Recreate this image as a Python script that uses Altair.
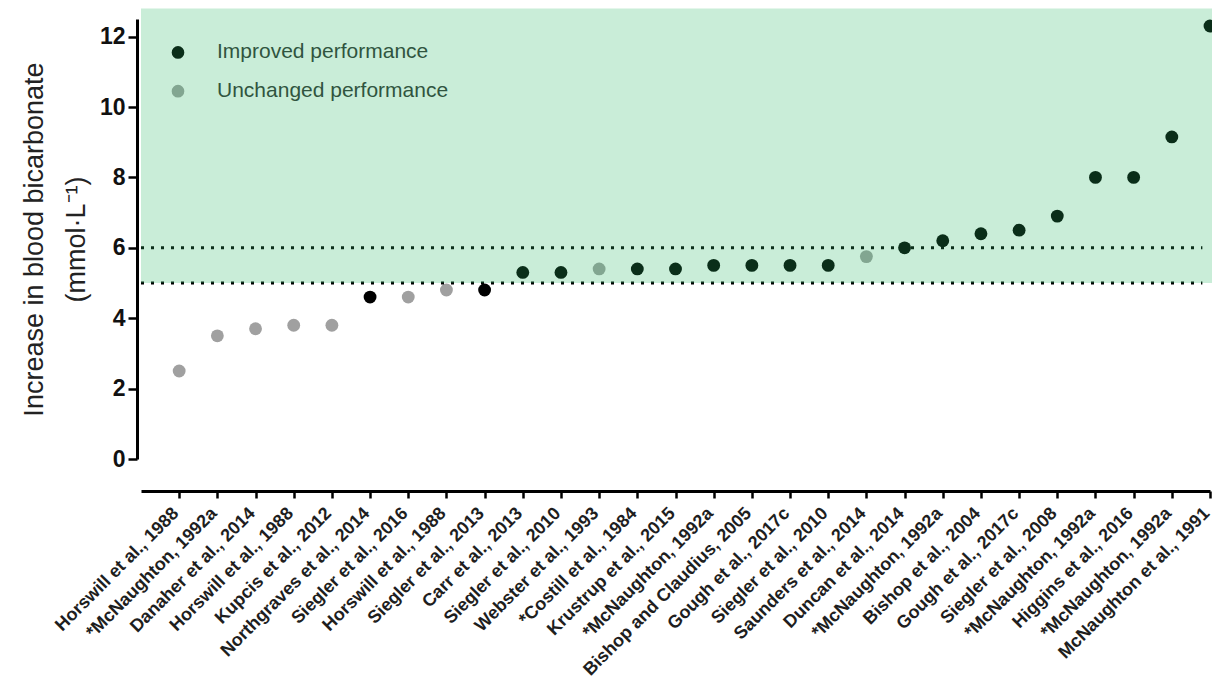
import json
import altair as alt
import pandas as pd

studies = [
    "Horswill et al., 1988", "*McNaughton, 1992a", "Danaher et al., 2014",
    "Horswill et al., 1988", "Kupcis et al., 2012", "Northgraves et al., 2014",
    "Siegler et al., 2016", "Horswill et al., 1988", "Siegler et al., 2013",
    "Carr et al., 2013", "Siegler et al., 2010", "Webster et al., 1993",
    "*Costill et al., 1984", "Krustrup et al., 2015", "*McNaughton, 1992a",
    "Bishop and Claudius, 2005", "Gough et al., 2017c", "Siegler et al., 2010",
    "Saunders et al., 2014", "Duncan et al., 2014", "*McNaughton, 1992a",
    "Bishop et al., 2004", "Gough et al., 2017c", "Siegler et al., 2008",
    "*McNaughton, 1992a", "Higgins et al., 2016", "*McNaughton, 1992a",
    "McNaughton et al., 1991",
]
increase = [2.5, 3.5, 3.7, 3.8, 3.8, 4.6, 4.6, 4.8, 4.8, 5.3, 5.3, 5.4, 5.4, 5.4,
            5.5, 5.5, 5.5, 5.5, 5.75, 6.0, 6.2, 6.4, 6.5, 6.9, 8.0, 8.0, 9.15, 12.3]
I, U = "Improved performance", "Unchanged performance"
outcome = [U, U, U, U, U, I, U, U, I, I, I, U, I, I,
           I, I, I, I, U, I, I, I, I, I, I, I, I, I]
thresholds = [5, 6]
legend_labels = [I, U]

FONT = "Liberation Sans, Arial, Helvetica, sans-serif"
YTITLE = ["Increase in blood bicarbonate", "(mmol·L⁻¹)"]

df = pd.DataFrame({"idx": list(range(len(studies))), "study": studies,
                   "value": increase, "outcome": outcome})

xscale = alt.Scale(domain=[-1, 27], nice=False, zero=False)
yscale = alt.Scale(domain=[0, 12.5], nice=False, zero=True)
cscale = alt.Scale(domain=[I, U], range=["#000000", "#a0a0a0"])

label_expr = json.dumps(studies) + "[datum.value]"

XAX = alt.Axis(values=list(range(len(studies))), labelExpr=label_expr,
               labelAngle=-45, labelAlign="right", labelBaseline="alphabetic",
               labelFontSize=18, labelFontWeight="bold", labelFont=FONT,
               labelColor="#1e1e1e", labelLimit=400,
               labelPadding=16, tickSize=7, tickWidth=2.5, tickColor="#000",
               domainColor="#000", domainWidth=3, offset=32,
               grid=False, labelOverlap=False, labelFlush=False)
YAX = alt.Axis(values=[0, 2, 4, 6, 8, 10, 12], labelFontSize=23,
               labelFontWeight="bold", labelFont=FONT, labelColor="#111",
               labelPadding=3,
               tickSize=9, tickWidth=2.5, tickColor="#000",
               domainColor="#000", domainWidth=3, offset=4, grid=False,
               titleFont=FONT, titleFontSize=27, titleFontWeight="normal",
               titleColor="#222", titlePadding=9, titleLineHeight=42)


def X(field):
    return alt.X(field, scale=xscale, title=None, axis=XAX)


def Y(field):
    return alt.Y(field, scale=yscale, title=YTITLE, axis=YAX)


points = alt.Chart(df).mark_point(filled=True, size=165, opacity=1).encode(
    x=X("idx:Q"),
    y=Y("value:Q"),
    color=alt.Color("outcome:N", scale=cscale, legend=None),
)

rules = alt.Chart(pd.DataFrame({"t": thresholds, "x0": [-1, -1], "x1": [26.8, 26.8]})).mark_rule(
    color="#000", strokeWidth=3, strokeDash=[3, 7]
).encode(
    x=X("x0:Q"),
    x2="x1:Q",
    y=Y("t:Q"),
)

leg_df = pd.DataFrame({"label": legend_labels, "ly": [11.55, 10.45]})
leg_pts = alt.Chart(leg_df).mark_point(filled=True, size=160, opacity=1).encode(
    x=alt.value(37),
    y=Y("ly:Q"),
    color=alt.Color("label:N", scale=cscale, legend=None),
)
leg_txt = alt.Chart(leg_df).mark_text(align="left", baseline="middle", fontSize=21,
                                      font=FONT, color="#333").encode(
    x=alt.value(76),
    y=Y("ly:Q"),
    text="label:N",
)

overlay = alt.Chart(pd.DataFrame({"x0": [-1], "x1": [27.3], "y0": [5], "y1": [12.8]})).mark_rect(
    color="#27b763", opacity=0.25
).encode(
    x=X("x0:Q"),
    x2="x1:Q",
    y=Y("y0:Q"),
    y2="y1:Q",
)

chart = alt.layer(points, rules, leg_pts, leg_txt, overlay).properties(
    width=1069, height=440,
    autosize=alt.AutoSizeParams(type="none"),
    padding={"left": 133, "top": 11, "right": 2, "bottom": 224},
).configure_view(stroke=None)

chart.save("out.html", embed_options={"renderer": "svg", "actions": False})
